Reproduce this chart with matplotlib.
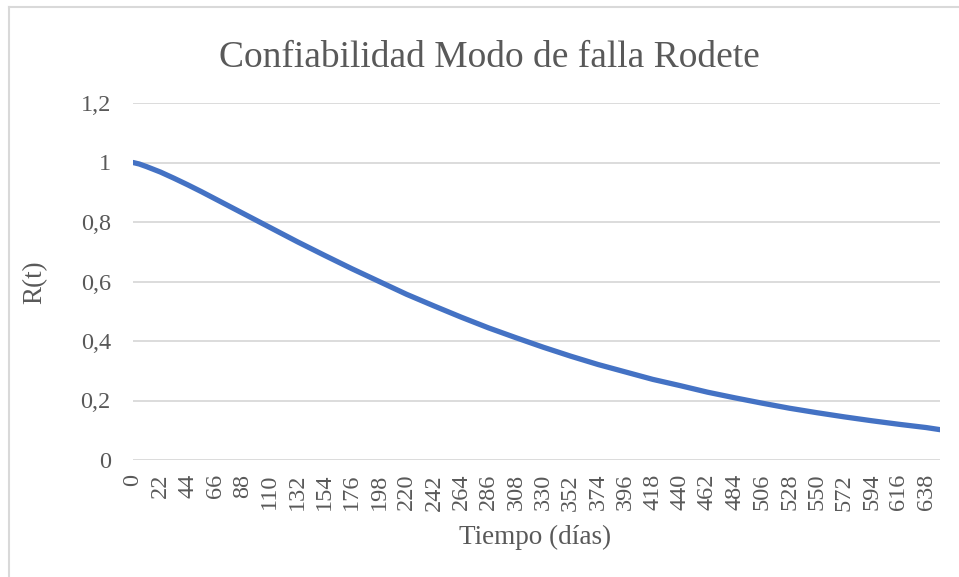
import matplotlib
matplotlib.use('Agg')
import matplotlib.pyplot as plt
from matplotlib.lines import Line2D

# Readings of R(t) taken off the chart
dias = [0, 5, 11, 22, 33, 44, 55, 66, 77, 88, 99, 110, 132, 154, 176, 198, 220,
        242, 264, 286, 308, 330, 352, 374, 396, 418, 440, 462, 484, 506, 528,
        550, 572, 594, 616, 638, 649]
confiabilidad = [1.000, 0.995, 0.986, 0.968, 0.947, 0.925, 0.902, 0.878, 0.854,
                 0.830, 0.806, 0.782, 0.734, 0.688, 0.643, 0.600, 0.557, 0.518,
                 0.480, 0.444, 0.411, 0.379, 0.349, 0.321, 0.296, 0.271, 0.250,
                 0.228, 0.209, 0.191, 0.174, 0.159, 0.145, 0.132, 0.120, 0.109,
                 0.102]
tick_dias = list(range(0, 639, 22))
y_ticks = [0, 0.2, 0.4, 0.6, 0.8, 1.0, 1.2]
y_labels = ['0', '0,2', '0,4', '0,6', '0,8', '1', '1,2']

gris = '#595959'
plt.rcParams['font.family'] = ['Liberation Serif', 'DejaVu Serif']

W, H = 959, 577
fig = plt.figure(figsize=(W / 100, H / 100), dpi=100)
ax = fig.add_axes([133 / W, 1 - 460 / H, (940 - 133) / W, (460 - 103) / H])

ax.plot(dias, confiabilidad, color='#4472C4', lw=3.8, solid_capstyle='round')

ax.set_xlim(0, 649)
ax.set_ylim(0, 1.2)
ax.set_yticks(y_ticks)
ax.set_yticklabels(y_labels)
ax.set_xticks(tick_dias)
ax.set_xticklabels([str(d) for d in tick_dias], rotation=90)
ax.tick_params(axis='both', length=0, colors=gris, labelsize=17.5)
ax.tick_params(axis='y', pad=16)
ax.tick_params(axis='x', pad=10)
ax.grid(axis='y', color='#d9d9d9', lw=1.3)
ax.set_axisbelow(True)
for s in ax.spines.values():
    s.set_visible(False)

fig.text(35 / W, 1 - 282 / H, 'R(t)', color=gris, fontsize=19.5,
         rotation=90, ha='center', va='center')
fig.text(535 / W, 1 - 537 / H, 'Tiempo (días)', color=gris, fontsize=19.5,
         ha='center', va='center')
fig.text(489 / W, 1 - 58 / H, 'Confiabilidad Modo de falla Rodete', color=gris,
         fontsize=27, ha='center', va='center')

# chart border (only left and top visible in the crop)
fig.add_artist(Line2D([9 / W, 9 / W], [0, 1 - 7 / H], color='#d9d9d9', lw=1.5))
fig.add_artist(Line2D([9 / W, 1], [1 - 7 / H, 1 - 7 / H], color='#d9d9d9', lw=1.5))

fig.savefig('out.png', dpi=100)
